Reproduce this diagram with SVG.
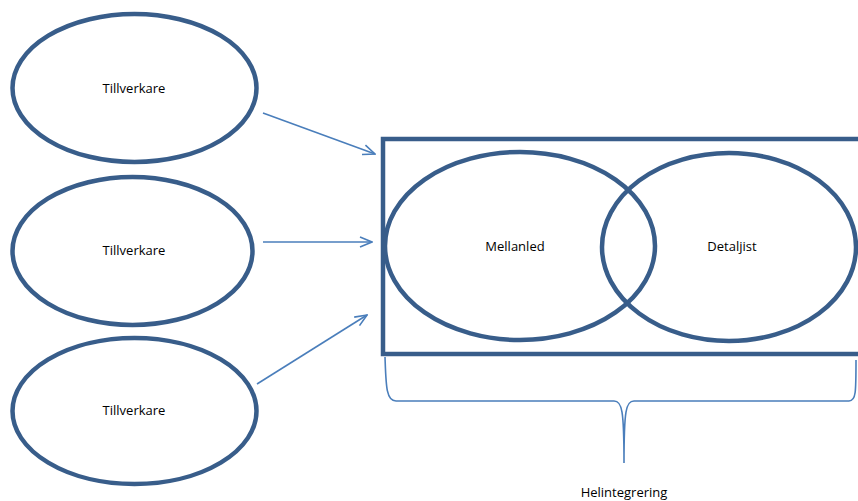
<svg xmlns="http://www.w3.org/2000/svg" width="858" height="501" viewBox="0 0 858 501">
  <defs>
    <marker id="open-arrow" viewBox="0 0 14 12" refX="13" refY="6" markerWidth="14" markerHeight="12" markerUnits="userSpaceOnUse" orient="auto">
      <path d="M1,1 L13,6 L1,11" fill="none" stroke="#4a7ebb" stroke-width="1.6"/>
    </marker>
  </defs>
  <style>
    .shape { fill: none; stroke: #385d8a; stroke-width: 4.5; }
    .label { font-family: "Open Sans", "Liberation Sans", sans-serif; font-size: 13px; fill: #000; text-anchor: middle; }
    .link { fill: none; stroke: #4a7ebb; stroke-width: 1.6; }
  </style>
  <rect width="858" height="501" fill="#fff"/>

  <g id="tillverkare-1">
    <ellipse class="shape" cx="134.5" cy="88" rx="122" ry="74"/>
    <text class="label" x="134" y="93">Tillverkare</text>
  </g>
  <g id="tillverkare-2">
    <ellipse class="shape" cx="132.5" cy="251" rx="120" ry="74"/>
    <text class="label" x="134" y="255">Tillverkare</text>
  </g>
  <g id="tillverkare-3">
    <ellipse class="shape" cx="134.5" cy="411" rx="122" ry="73"/>
    <text class="label" x="134" y="415">Tillverkare</text>
  </g>

  <g id="kedja">
    <rect class="shape" x="383" y="139" width="490" height="215"/>
  </g>
  <g id="mellanled">
    <ellipse class="shape" cx="520" cy="246" rx="135" ry="94"/>
    <text class="label" x="515" y="251">Mellanled</text>
  </g>
  <g id="detaljist">
    <ellipse class="shape" cx="729" cy="247" rx="127" ry="94"/>
    <text class="label" x="732" y="251">Detaljist</text>
  </g>

  <g id="connectors">
    <line class="link" x1="263" y1="113" x2="375" y2="154" marker-end="url(#open-arrow)"/>
    <line class="link" x1="263" y1="242" x2="372" y2="242" marker-end="url(#open-arrow)"/>
    <line class="link" x1="257" y1="384" x2="367" y2="315" marker-end="url(#open-arrow)"/>
  </g>

  <g id="helintegrering">
    <path class="link" d="M385,357 C386,385 386,401 396,401 L614,401 C622,401 624,410 624,463 C624,410 626,401 634,401 L849,401 C856,401 856,392 856,360"/>
    <text class="label" x="624" y="497">Helintegrering</text>
  </g>
</svg>
